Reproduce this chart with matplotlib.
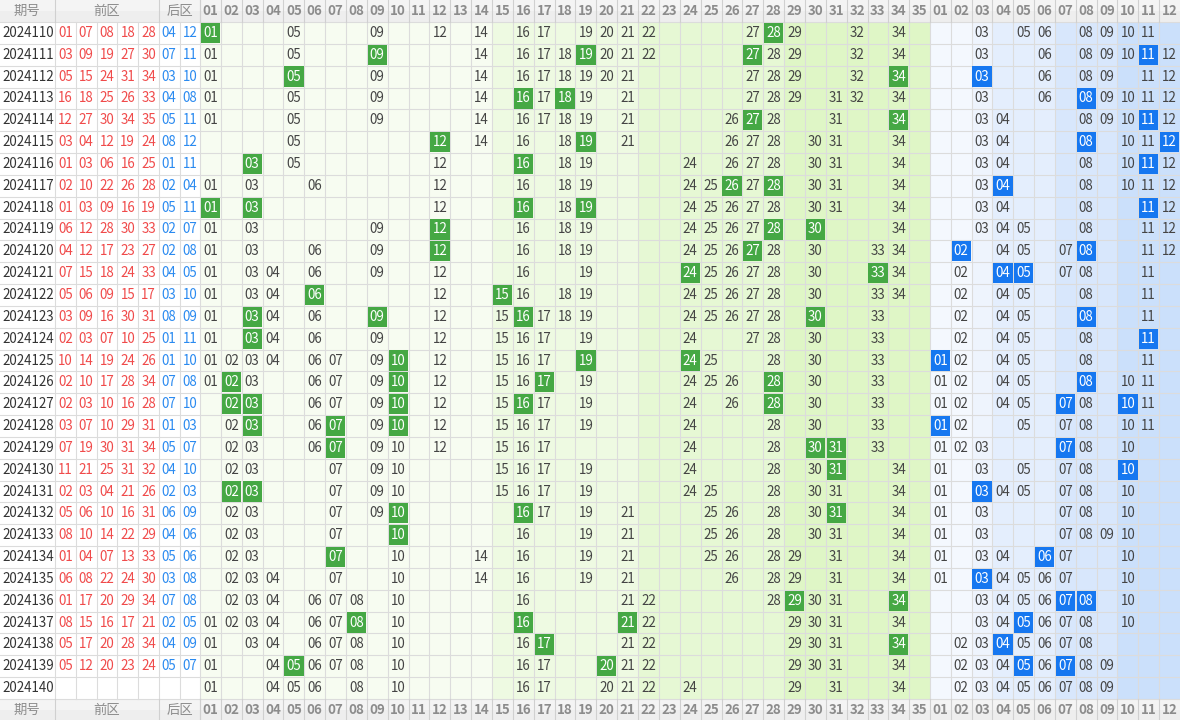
import matplotlib
matplotlib.use("Agg")
import matplotlib.pyplot as plt
from matplotlib.patches import Rectangle

plt.rcParams['font.family'] = ['Noto Sans CJK SC', 'DejaVu Sans']

issues = [str(2024110 + i) for i in range(31)]

front_draw = [
    "01 07 08 18 28", "03 09 19 27 30", "05 15 24 31 34", "16 18 25 26 33",
    "12 27 30 34 35", "03 04 12 19 24", "01 03 06 16 25", "02 10 22 26 28",
    "01 03 09 16 19", "06 12 28 30 33", "04 12 17 23 27", "07 15 18 24 33",
    "05 06 09 15 17", "03 09 16 30 31", "02 03 07 10 25", "10 14 19 24 26",
    "02 10 17 28 34", "02 03 10 16 28", "03 07 10 29 31", "07 19 30 31 34",
    "11 21 25 31 32", "02 03 04 21 26", "05 06 10 16 31", "08 10 14 22 29",
    "01 04 07 13 33", "06 08 22 24 30", "01 17 20 29 34", "08 15 16 17 21",
    "05 17 20 28 34", "05 12 20 23 24", "",
]
back_draw = [
    "04 12", "07 11", "03 10", "04 08", "05 11", "08 12", "01 11", "02 04",
    "05 11", "02 07", "02 08", "04 05", "03 10", "08 09", "01 11", "01 10",
    "07 08", "07 10", "01 03", "05 07", "04 10", "02 03", "06 09", "04 06",
    "05 06", "03 08", "07 08", "02 05", "04 09", "05 07", "",
]

# numbers shown in the trend area, '*' = highlighted hit
front_marks = [
    "01* 05 09 12 14 16 17 19 20 21 22 27 28* 29 32 34",
    "01 05 09* 14 16 17 18 19* 20 21 22 27* 28 29 32 34",
    "01 05* 09 14 16 17 18 19 20 21 27 28 29 32 34*",
    "01 05 09 14 16* 17 18* 19 21 27 28 29 31 32 34",
    "01 05 09 14 16 17 18 19 21 26 27* 28 31 34*",
    "05 12* 14 16 18 19* 21 26 27 28 30 31 34",
    "03* 05 12 16* 18 19 24 26 27 28 30 31 34",
    "01 03 06 12 16 18 19 24 25 26* 27 28* 30 31 34",
    "01* 03* 12 16* 18 19* 24 25 26 27 28 30 31 34",
    "01 03 09 12* 16 18 19 24 25 26 27 28* 30* 34",
    "01 03 06 09 12* 16 18 19 24 25 26 27* 28 30 33 34",
    "01 03 04 06 09 12 16 19 24* 25 26 27 28 30 33* 34",
    "01 03 04 06* 12 15* 16 18 19 24 25 26 27 28 30 33 34",
    "01 03* 04 06 09* 12 15 16* 17 18 19 24 25 26 27 28 30* 33",
    "01 03* 04 06 09 12 15 16 17 19 24 27 28 30 33",
    "01 02 03 04 06 07 09 10* 12 15 16 17 19* 24* 25 28 30 33",
    "01 02* 03 06 07 09 10* 12 15 16 17* 19 24 25 26 28* 30 33",
    "02* 03* 06 07 09 10* 12 15 16* 17 19 24 26 28* 30 33",
    "02 03* 06 07* 09 10* 12 15 16 17 19 24 28 30 33",
    "02 03 06 07* 09 10 12 15 16 17 24 28 30* 31* 33",
    "02 03 07 09 10 15 16 17 19 24 28 30 31* 34",
    "02* 03* 07 09 10 15 16 17 19 24 25 28 30 31 34",
    "02 03 07 09 10* 16* 17 19 21 25 26 28 30 31* 34",
    "02 03 07 10* 16 19 21 25 26 28 30 31 34",
    "02 03 07* 10 14 16 19 21 25 26 28 29 31 34",
    "02 03 04 07 10 14 16 19 21 26 28 29 31 34",
    "02 03 04 06 07 08 10 16 21 22 28 29* 30 31 34*",
    "01 02 03 04 06 07 08* 10 16* 21* 22 29 30 31 34",
    "01 03 04 06 07 08 10 16 17* 21 22 29 30 31 34*",
    "01 04 05* 06 07 08 10 16 17 20* 21 22 29 30 31 34",
    "01 04 05 06 08 10 16 17 20 21 22 24 29 31 34",
]
back_marks = [
    "03 05 06 08 09 10 11",
    "03 06 08 09 10 11* 12",
    "03* 06 08 09 11 12",
    "03 06 08* 09 10 11 12",
    "03 04 08 09 10 11* 12",
    "03 04 08* 10 11 12*",
    "03 04 08 10 11* 12",
    "03 04* 08 10 11 12",
    "03 04 08 11* 12",
    "03 04 05 08 11 12",
    "02* 04 05 07 08* 11 12",
    "02 04* 05* 07 08 11",
    "02 04 05 08 11",
    "02 04 05 08* 11",
    "02 04 05 08 11*",
    "01* 02 04 05 08 11",
    "01 02 04 05 08* 10 11",
    "01 02 04 05 07* 08 10* 11",
    "01* 02 05 07 08 10 11",
    "01 02 03 07* 08 10",
    "01 03 05 07 08 10*",
    "01 03* 04 05 07 08 10",
    "01 03 07 08 10",
    "01 03 07 08 09 10",
    "01 03 04 06* 07 10",
    "01 03* 04 05 06 07 10",
    "03 04 05 06 07* 08* 10",
    "03 04 05* 06 07 08 10",
    "02 03 04* 05 06 07 08",
    "02 03 04 05* 06 07* 08 09",
    "02 03 04 05 06 07 08 09",
]

W, H = 1180, 720
HEAD = 22
ROW_H = (699 - HEAD) / 31
X_FRONT0, FW = 200, 20.86
X_BACK0, BW = 930, 20.83
DRAW_X0, DRAW_W = 55, 20.8

FONT = 9.6
GRID = '#dcdcdc'
GREEN = '#45a844'
BLUE = '#1677f0'


def front_bg(n):
    if n <= 14:
        return '#f7fcf1'
    if n <= 21:
        return '#eefae2'
    if n <= 28:
        return '#e6f8d4'
    return '#dff6c6'


def back_bg(n):
    if n <= 2:
        return '#f4f8fe'
    if n <= 3:
        return '#eef4fd'
    if n <= 6:
        return '#e4eefd'
    if n <= 9:
        return '#d8e7fc'
    return '#cbe0fb'


fig = plt.figure(figsize=(W / 100, H / 100), dpi=100)
ax = fig.add_axes([0, 0, 1, 1])
ax.set_xlim(0, W)
ax.set_ylim(H, 0)
ax.axis('off')

# column backgrounds
for n in range(1, 36):
    ax.add_patch(Rectangle((X_FRONT0 + (n - 1) * FW, HEAD), FW, 31 * ROW_H,
                           fc=front_bg(n), ec='none', zorder=0))
for n in range(1, 13):
    ax.add_patch(Rectangle((X_BACK0 + (n - 1) * BW, HEAD), BW, 31 * ROW_H,
                           fc=back_bg(n), ec='none', zorder=0))


def header(y0):
    ax.add_patch(Rectangle((0, y0), W, HEAD, fc='#eeeeee', ec='none', zorder=1))
    ax.add_patch(Rectangle((0, y0), W, HEAD / 2, fc='#f4f4f4', ec='none', zorder=1))
    hc = '#8c8c8c'
    yc = y0 + HEAD / 2
    ax.text(27, yc, '期号', ha='center', va='center', fontsize=FONT, color=hc, zorder=3)
    ax.text(107, yc, '前区', ha='center', va='center', fontsize=FONT, color=hc, zorder=3)
    ax.text(180, yc, '后区', ha='center', va='center', fontsize=FONT, color=hc, zorder=3)
    for xb in [55, 159, 200]:
        ax.plot([xb, xb], [y0, y0 + HEAD], color='#d0d0d0', lw=0.8, zorder=2)
    for n in range(1, 36):
        x = X_FRONT0 + (n - 1) * FW
        ax.plot([x, x], [y0, y0 + HEAD], color='#d0d0d0', lw=0.8, zorder=2)
        ax.text(x + FW / 2, yc, f'{n:02d}', ha='center', va='center',
                fontsize=FONT, color=hc, fontweight='bold', zorder=3)
    for n in range(1, 13):
        x = X_BACK0 + (n - 1) * BW
        ax.plot([x, x], [y0, y0 + HEAD], color='#d0d0d0', lw=0.8, zorder=2)
        ax.text(x + BW / 2, yc, f'{n:02d}', ha='center', va='center',
                fontsize=FONT, color=hc, fontweight='bold', zorder=3)


header(0)
header(699)

# grid
for i in range(32):
    y = HEAD + i * ROW_H
    ax.plot([0, W], [y, y], color=GRID, lw=0.8, zorder=1)
vlines = [55] + [DRAW_X0 + k * DRAW_W for k in range(1, 5)] + [159, 179.5, 200]
vlines += [X_FRONT0 + k * FW for k in range(1, 36)]
vlines += [X_BACK0 + k * BW for k in range(1, 12)]
for x in vlines:
    ax.plot([x, x], [HEAD, 699], color=GRID, lw=0.8, zorder=1)


def cell_marks(spec, x0, w, yc, y_top, hit_color):
    for tok in spec.split():
        hit = tok.endswith('*')
        n = int(tok.rstrip('*'))
        x = x0 + (n - 1) * w
        if hit:
            ax.add_patch(Rectangle((x + 0.8, y_top + 0.8), w - 1.6, ROW_H - 1.6,
                                   fc=hit_color, ec='none', zorder=2))
            ax.text(x + w / 2, yc, f'{n:02d}', ha='center', va='center',
                    fontsize=FONT, color='white', zorder=3)
        else:
            ax.text(x + w / 2, yc, f'{n:02d}', ha='center', va='center',
                    fontsize=FONT, color='#444444', zorder=3)


for i, iss in enumerate(issues):
    y_top = HEAD + i * ROW_H
    yc = y_top + ROW_H / 2
    ax.text(2, yc, iss, ha='left', va='center', fontsize=FONT, color='#333333', zorder=3)
    for k, v in enumerate(front_draw[i].split()):
        ax.text(DRAW_X0 + (k + 0.5) * DRAW_W, yc, v, ha='center', va='center',
                fontsize=FONT, color='#f04a4a', zorder=3)
    for k, v in enumerate(back_draw[i].split()):
        ax.text(159 + (k + 0.5) * 20.5, yc, v, ha='center', va='center',
                fontsize=FONT, color='#2a8af0', zorder=3)
    cell_marks(front_marks[i], X_FRONT0, FW, yc, y_top, GREEN)
    cell_marks(back_marks[i], X_BACK0, BW, yc, y_top, BLUE)

fig.savefig('out.png', dpi=100)
